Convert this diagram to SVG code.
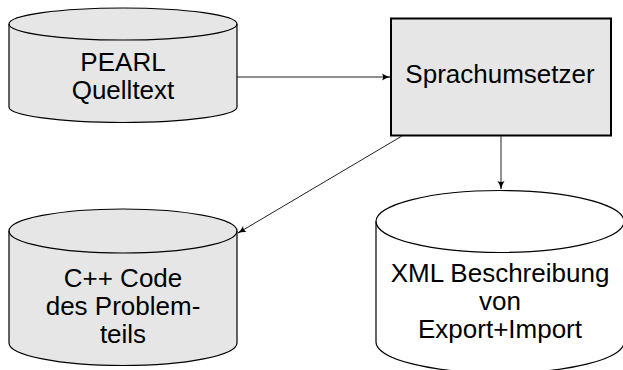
<svg xmlns="http://www.w3.org/2000/svg" width="623" height="370" viewBox="0 0 623 370">
  <defs>
    <style>
      .shape { stroke: #000; stroke-width: 1.2; }
      .grey { fill: #e6e6e6; }
      .white { fill: #fff; }
      .box { fill: #e6e6e6; stroke: #000; stroke-width: 2; }
      .lbl { font-family: "Liberation Sans", Arial, sans-serif; font-size: 26px; fill: #000; text-anchor: middle; }
      .edge { fill: none; stroke: #222; stroke-width: 1; }
    </style>
    <marker id="arrow" viewBox="0 0 10 10" refX="9" refY="5" markerWidth="10" markerHeight="10" markerUnits="userSpaceOnUse" orient="auto">
      <path d="M1,1.5 Q5,4.2 9.5,5 Q5,5.8 1,8.5 Q3.2,5 1,1.5 Z" fill="#000"/>
    </marker>
  </defs>

  <!-- source file store -->
  <g id="pearl">
    <path class="shape grey" d="M9,24 L9,107 A114,15.5 0 0 0 237,107 L237,24 A114,16 0 0 0 9,24 Z"/>
    <path class="shape" fill="none" d="M9,24 A114,16 0 0 0 237,24"/>
    <text class="lbl" x="123" y="71">PEARL</text>
    <text class="lbl" x="123" y="99">Quelltext</text>
  </g>

  <!-- translator -->
  <g id="translator">
    <rect class="box" x="391" y="18.5" width="220" height="117"/>
    <text class="lbl" x="500" y="83">Sprachumsetzer</text>
  </g>

  <!-- generated C++ store -->
  <g id="cpp">
    <path class="shape grey" d="M9,231 L9,343 A114,22.5 0 0 0 237,343 L237,231 A114,22 0 0 0 9,231 Z"/>
    <path class="shape" fill="none" d="M9,231 A114,22 0 0 0 237,231"/>
    <text class="lbl" x="123" y="286.5">C++ Code</text>
    <text class="lbl" x="123" y="315">des Problem-</text>
    <text class="lbl" x="123" y="343">teils</text>
  </g>

  <!-- XML interface description store -->
  <g id="xml">
    <path class="shape white" d="M376,221.5 L376,342 A124,31 0 0 0 624,342 L624,221.5 A124,31 0 0 0 376,221.5 Z"/>
    <path class="shape" fill="none" d="M376,221.5 A124,31 0 0 0 624,221.5"/>
    <text class="lbl" x="500" y="282">XML Beschreibung</text>
    <text class="lbl" x="500" y="310">von</text>
    <text class="lbl" x="500" y="338">Export+Import</text>
  </g>

  <g id="edges">
    <path class="edge" marker-end="url(#arrow)" d="M237,77 L390,77"/>
    <path class="edge" marker-end="url(#arrow)" d="M501,136 L501,189"/>
    <path class="edge" marker-end="url(#arrow)" d="M402,136 L238,233"/>
  </g>
</svg>
